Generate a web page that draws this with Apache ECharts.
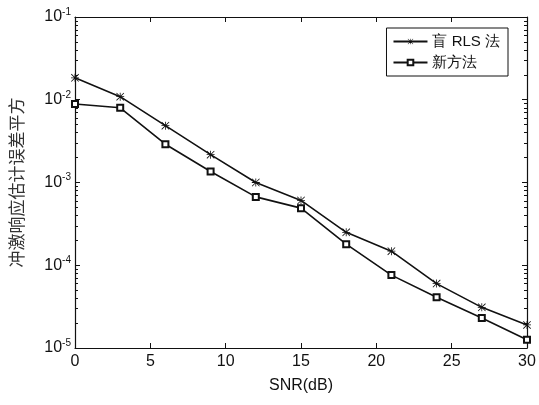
<!DOCTYPE html>
<html>
<head>
<meta charset="utf-8">
<script src="https://cdn.jsdelivr.net/npm/echarts@6/dist/echarts.min.js"></script>
<style>
  html, body { margin: 0; padding: 0; background: #fff; }
  #main { width: 539px; height: 405px; }
</style>
</head>
<body>
<div id="main"></div>
<script>
var snr = [0, 3, 6, 9, 12, 15, 18, 21, 24, 27, 30];
var rlsErr = [0.0184, 0.0109, 0.00486, 0.00217, 0.00100, 0.000607, 0.00025, 0.000148, 0.000060, 0.000031, 0.000019];
var newErr = [0.0089, 0.0080, 0.0029, 0.00136, 0.00067, 0.00049, 0.00018, 0.000076, 0.000041, 0.000023, 0.0000126];
var seriesNames = ['盲 RLS 法', '新方法'];
var decades = [-5, -4, -3, -2];
var minorSteps = [2, 3, 4, 5, 6, 7, 8, 9];

// log-spaced minor ticks 2..9 in each decade
var minorTicks = [];
decades.forEach(function (e) {
  minorSteps.forEach(function (m) { minorTicks.push(m * Math.pow(10, e)); });
});

var star = 'path://M0,4.5L10,4.5L10,5.5L0,5.5Z M4.5,0L5.5,0L5.5,10L4.5,10Z M0.7,0L10,9.3L9.3,10L0,0.7Z M9.3,0L10,0.7L0.7,10L0,9.3Z';

function pairs(ys) {
  return snr.map(function (x, i) { return [x, ys[i]]; });
}

var font = 'Liberation Sans, Arial, sans-serif';
var axisLine = { show: true, onZero: false, lineStyle: { color: '#111', width: 1.2 } };
var tick = { inside: true, length: 5, lineStyle: { color: '#111' } };

function minorAxis(pos) {
  return {
    type: 'log', min: 1e-5, max: 1e-1, logBase: 10, position: pos, offset: 0,
    axisLine: { show: false, onZero: false },
    axisTick: { show: true, inside: true, length: 3, customValues: minorTicks, lineStyle: { color: '#111' } },
    axisLabel: { show: false },
    splitLine: { show: false }
  };
}

var myChart = echarts.init(document.getElementById('main'));
myChart.setOption({
  animation: false,
  backgroundColor: '#fff',
  grid: { left: 74, right: 12, top: 17, bottom: 57 },
  legend: {
    right: 31, top: 28,
    orient: 'vertical',
    backgroundColor: '#fff',
    borderColor: '#111', borderWidth: 1,
    padding: [6, 8, 6, 6],
    itemGap: 6,
    itemWidth: 34, itemHeight: 7,
    textStyle: { fontSize: 15, color: '#111', fontFamily: font },
    data: seriesNames
  },
  xAxis: [{
    type: 'value', min: 0, max: 30, interval: 5,
    name: 'SNR(dB)', nameLocation: 'middle', nameGap: 30,
    nameTextStyle: { fontSize: 16, color: '#111', fontFamily: font },
    axisLine: axisLine,
    axisTick: tick,
    axisLabel: { fontSize: 16, color: '#111', fontFamily: font, margin: 6 },
    splitLine: { show: false }
  }, {
    type: 'value', min: 0, max: 30, interval: 5, position: 'top',
    axisLine: axisLine,
    axisTick: tick,
    axisLabel: { show: false },
    splitLine: { show: false }
  }],
  yAxis: [{
    type: 'log', min: 1e-5, max: 1e-1, logBase: 10, offset: 0,
    name: '冲激响应估计误差平方', nameLocation: 'middle', nameGap: 50, nameRotate: 90,
    nameTextStyle: { fontSize: 17, color: '#333', fontFamily: 'Noto Sans CJK SC' },
    axisLine: axisLine,
    axisTick: tick,
    axisLabel: {
      margin: 4,
      formatter: function (v) {
        return '{b|10}{s|' + Math.round(Math.log10(v)) + '}';
      },
      rich: {
        b: { fontSize: 16, color: '#111', fontFamily: font },
        s: { fontSize: 10, color: '#111', fontFamily: font, padding: [0, 0, 10, 0] }
      }
    },
    splitLine: { show: false }
  }, {
    type: 'log', min: 1e-5, max: 1e-1, logBase: 10, position: 'right', offset: 0,
    axisLine: axisLine,
    axisTick: tick,
    axisLabel: { show: false },
    splitLine: { show: false }
  }, minorAxis('left'), minorAxis('right')],
  series: [{
    name: seriesNames[0], type: 'line',
    data: pairs(rlsErr),
    symbol: star, symbolSize: 8,
    lineStyle: { color: '#111', width: 1.6 },
    itemStyle: { color: '#111' }
  }, {
    name: seriesNames[1], type: 'line',
    data: pairs(newErr),
    symbol: 'emptyRect', symbolSize: 6,
    lineStyle: { color: '#111', width: 1.6 },
    itemStyle: { color: '#111', borderColor: '#111', borderWidth: 1 }
  }]
});
</script>
</body>
</html>
